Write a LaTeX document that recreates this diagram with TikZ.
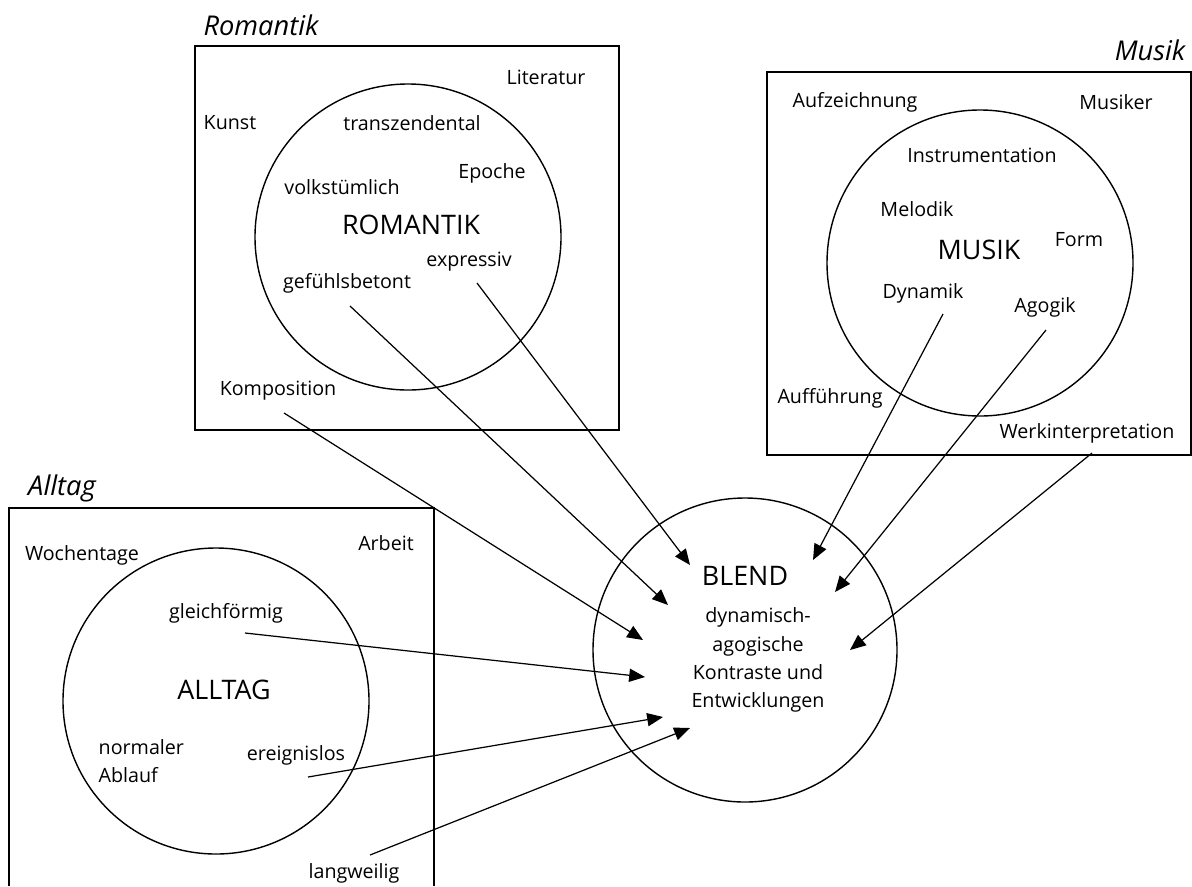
\documentclass[tikz,border=0pt]{standalone}
\usepackage{fontspec}
\setmainfont{Open Sans}
\usetikzlibrary{arrows.meta}

\tikzset{
  word/.style={font=\fontsize{11.2}{16}\selectfont, inner sep=0pt},
  core/.style={font=\fontsize{15.3}{18}\selectfont, inner sep=0pt},
  title/.style={font=\fontsize{15.5}{18}\selectfont\itshape, inner sep=0pt},
  arr/.style={-{Triangle[length=9pt,width=7.5pt]}, line width=0.7pt},
}

\begin{document}
\begin{tikzpicture}[x=0.02cm, y=-0.02cm, line width=0.8pt]
    \useasboundingbox (0,0) rectangle (1192,886);

    % Romantik
    \node[title] (romtitle) at (261,25) {Romantik};
    \draw (195,46) rectangle (619,430);
    \draw (408,237) circle [radius=153];
    \node[word] (literatur) at (546,77) {Literatur};
    \node[word] (kunst) at (230,123) {Kunst};
    \node[word] (transz) at (412,123) {transzendental};
    \node[word] (volk) at (342,187) {volkstümlich};
    \node[word] (epoche) at (492,173) {Epoche};
    \node[core] (romantik) at (411,225) {ROMANTIK};
    \node[word] (expressiv) at (469,262) {expressiv};
    \node[word] (gefuehl) at (347,283) {gefühlsbetont};
    \node[word] (kompo) at (278,391) {Komposition};

    % Musik
    \node[title] (mustitle) at (1150,50) {Musik};
    \draw (767,72) rectangle (1191,455);
    \draw (980,263) circle [radius=153];
    \node[word] (aufz) at (855,102) {Aufzeichnung};
    \node[word] (musiker) at (1116,102) {Musiker};
    \node[word] (instr) at (982,155) {Instrumentation};
    \node[word] (melodik) at (917,209) {Melodik};
    \node[core] (musik) at (979,250) {MUSIK};
    \node[word] (form) at (1079,240) {Form};
    \node[word] (dynamik) at (923,293) {Dynamik};
    \node[word] (agogik) at (1045,307) {Agogik};
    \node[word] (auff) at (830,398) {Aufführung};
    \node[word] (werk) at (1087,433) {Werkinterpretation};

    % Alltag
    \node[title] (alltitle) at (62,488) {Alltag};
    \draw (9,886) -- (9,508) -- (434,508) -- (434,886);
    \draw (216,701) circle [radius=153];
    \node[word] (woche) at (82,555) {Wochentage};
    \node[word] (arbeit) at (386,543) {Arbeit};
    \node[word] (gleich) at (226,613) {gleichförmig};
    \node[core] (alltag) at (224,690) {ALLTAG};
    \node[word, anchor=west, align=left] (ablauf) at (98,761) {normaler\\Ablauf};
    \node[word] (ereignis) at (296,755) {ereignislos};
    \node[word] (lang) at (354,873) {langweilig};

    % Blend
    \draw (745,650) circle [radius=152];
    \node[core] (blend) at (745,576) {BLEND};
    \node[word, align=center] (kontrast) at (758,660) {dynamisch-\\agogische\\Kontraste und\\Entwicklungen};

    \coordinate (b1) at (643,640);
    \coordinate (b2) at (668,605);
    \coordinate (b3) at (690,565);
    \coordinate (b4) at (813,560);
    \coordinate (b5) at (835,592);
    \coordinate (b6) at (850,650);
    \coordinate (b7) at (645,677);
    \coordinate (b8) at (663,717);
    \coordinate (b9) at (690,728);

    \draw[arr] ([shift={(6,22)}]kompo.center) -- (b1);
    \draw[arr] ([shift={(3,23)}]gefuehl.center) -- (b2);
    \draw[arr] ([shift={(8,21)}]expressiv.center) -- (b3);
    \draw[arr] ([shift={(20,21)}]dynamik.center) -- (b4);
    \draw[arr] ([shift={(1,23)}]agogik.center) -- (b5);
    \draw[arr] ([shift={(5,20)}]werk.center) -- (b6);
    \draw[arr] ([shift={(19,20)}]gleich.center) -- (b7);
    \draw[arr] ([shift={(12,22)}]ereignis.center) -- (b8);
    \draw[arr] ([shift={(16,-18)}]lang.center) -- (b9);
\end{tikzpicture}
\end{document}
